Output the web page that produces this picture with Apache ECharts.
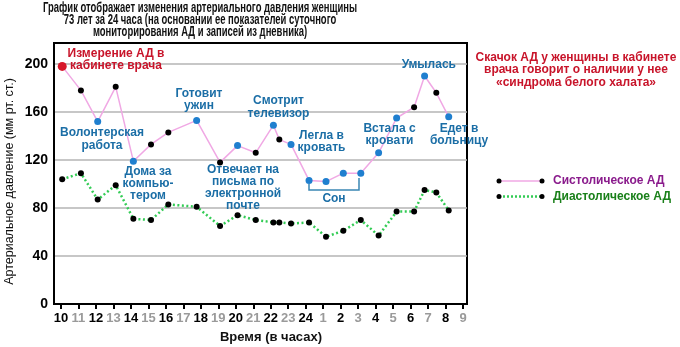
<!DOCTYPE html>
<html>
<head>
<meta charset="utf-8">
<script src="https://cdn.jsdelivr.net/npm/echarts@6/dist/echarts.min.js"></script>
<style>html,body{margin:0;padding:0;background:#fff;}#c{width:680px;height:347px;}</style>
</head>
<body>
<div id="c"></div>
<script>
// measurement times (hours from 10:00, continuing past midnight as 25, 26 ...)
var hours = [10.07, 11.14, 12.1, 13.13, 14.14, 15.15, 16.14, 17.76, 19.1, 20.1, 21.14, 22.15, 22.49, 23.16, 24.19, 25.16, 26.15, 27.15, 28.17, 29.2, 30.2, 30.8, 31.47, 32.18];
var systolic = [198, 178, 152, 181, 119, 133, 143, 153, 118, 132, 126, 149, 137, 133, 103, 102, 109, 109, 126, 155, 164, 190, 176, 156];
var diastolic = [104, 109, 87, 99, 71, 70, 83, 81, 65, 74, 70, 68, 68, 67, 68, 56, 61, 70, 57, 77, 77, 95, 93, 78];
// kind of each systolic point: 'office' = doctor's office, 'event' = diary entry, 'plain' = monitor only
var pointKind = ['office','plain','event','plain','event','plain','plain','event','plain','event','plain','event','plain','event','event','event','event','event','event','event','plain','event','plain','event'];
var tickHours = [10,11,12,13,14,15,16,17,18,19,20,21,22,23,24,25,26,27,28,29,30,31,32,33];
var yTicks = [0, 40, 80, 120, 160, 200];

var kindColor = {office:'#d7182a', event:'#1f7fcf', plain:'#000'};
var kindSize = {office:9, event:7, plain:6};

var chart = echarts.init(document.getElementById('c'), null, {renderer:'canvas'});

var FONT = '"Liberation Sans", Arial, sans-serif';
var BLUE_TXT = '#1b6ea6';
var RED_TXT = '#c8142a';

function measure(text, font) {
  var c = document.createElement('canvas').getContext('2d');
  c.font = font;
  var w = 0;
  text.split('\n').forEach(function(l){ w = Math.max(w, c.measureText(l).width); });
  return w;
}

function txt(text, x, y, color, opts) {
  opts = opts || {};
  var font = (opts.weight || 'bold') + ' ' + (opts.size || 12) + 'px ' + (opts.family || FONT);
  var sx = 1;
  if (opts.fitWidth) sx = opts.fitWidth / measure(text, font);
  return {
    type:'text', z:100, x:x, y:y, rotation: opts.rotation || 0, scaleX: sx, scaleY: 1,
    style:{
      text:text, fill:color, font:font,
      textAlign: opts.align || 'center', textVerticalAlign:'middle',
      lineHeight: opts.lh || 12.4
    }
  };
}

var graphics = [
  txt('График отображает изменения артериального давления женщины\n73 лет за 24 часа (на основании ее показателей суточного\nмониторирования АД и записей из дневника)', 200, 20, '#111', {size:14, lh:12.2, fitWidth:314}),
  txt('Измерение АД в\nкабинете врача', 116, 59.7, RED_TXT, {lh:11.8}),
  txt('Волонтерская\nработа', 102, 139, BLUE_TXT, {lh:12.6}),
  txt('Дома за\nкомпью-\nтером', 148, 183.7, BLUE_TXT, {lh:12}),
  txt('Готовит\nужин', 199, 99.7, BLUE_TXT, {lh:12.7}),
  txt('Отвечает на\nписьма по\nэлектронной\nпочте', 243, 187.5, BLUE_TXT, {lh:12}),
  txt('Смотрит\nтелевизор', 278.5, 107.2, BLUE_TXT, {lh:12.3}),
  txt('Легла в\nкровать', 321.5, 141.7, BLUE_TXT, {lh:12}),
  txt('Встала с\nкровати', 389.5, 134.2, BLUE_TXT, {lh:12}),
  txt('Умылась', 428.8, 64.3, BLUE_TXT),
  txt('Едет в\nбольницу', 459, 135, BLUE_TXT, {lh:12}),
  txt('Сон', 334, 199, BLUE_TXT),
  {type:'polyline', z:100, shape:{points:[[309,184],[309,190],[359,190],[359,178]]}, style:{stroke:'#3a86b4', lineWidth:1.5, fill:null}},
  txt('Скачок АД у женщины в кабинете\nврача говорит о наличии у нее\n«синдрома белого халата»', 576, 70, RED_TXT, {lh:12.7}),
  // legend
  {type:'line', z:100, shape:{x1:499, y1:181, x2:542, y2:181}, style:{stroke:'#f0a8e4', lineWidth:1.5}},
  {type:'circle', z:101, shape:{cx:499, cy:181, r:2.5}, style:{fill:'#000'}},
  {type:'circle', z:101, shape:{cx:542, cy:181, r:2.5}, style:{fill:'#000'}},
  txt('Систолическое АД', 553, 181, '#8a1b8c', {align:'left'}),
  {type:'line', z:100, shape:{x1:499, y1:196.5, x2:542, y2:196.5}, style:{stroke:'#33cc55', lineWidth:2.5, lineDash:[2,2]}},
  {type:'circle', z:101, shape:{cx:499, cy:196.5, r:2.5}, style:{fill:'#000'}},
  {type:'circle', z:101, shape:{cx:542, cy:196.5, r:2.5}, style:{fill:'#000'}},
  txt('Диастолическое АД', 553, 196.5, '#1a801a', {align:'left'}),
  // axis names
  txt('Время (в часах)', 271, 337, '#111', {size:13}),
  txt('Артериальное давление (мм рт. ст.)', 10, 181.5, '#111', {size:12.5, weight:'normal', rotation:Math.PI/2})
];

var option = {
  animation:false,
  backgroundColor:'#fff',
  grid:{left:54, right:213, top:43, bottom:43, show:true, borderColor:'#000', borderWidth:2, backgroundColor:'transparent'},
  xAxis:{
    type:'value', min:9.6, max:33.226,
    axisLine:{show:true, lineStyle:{color:'#000', width:2}},
    axisTick:{show:true, customValues:tickHours, length:5, lineStyle:{color:'#000', width:2}},
    axisLabel:{
      show:true, customValues:tickHours, margin:8,
      formatter:function(v){ var h = ((v - 1) % 24) + 1; return (h % 2 === 0 ? '{b|' : '{g|') + h + '}'; },
      rich:{
        b:{color:'#000', fontWeight:'bold', fontSize:13, fontFamily:FONT},
        g:{color:'#9a9a9a', fontWeight:'bold', fontSize:13, fontFamily:FONT}
      }
    },
    splitLine:{show:false}
  },
  yAxis:{
    type:'value', min:0, max:217.5, interval:40,
    axisLine:{show:true, lineStyle:{color:'#000', width:2}},
    axisTick:{show:false},
    axisLabel:{customValues:yTicks, margin:6, color:'#000', fontWeight:'bold', fontSize:14, fontFamily:FONT},
    splitLine:{show:true, showMinLine:false, showMaxLine:false, lineStyle:{color:'#b4b4b4', width:1.5}}
  },
  graphic:graphics,
  series:[
    {
      name:'Диастолическое АД', type:'line', z:3,
      data:hours.map(function(h,i){ return [h, diastolic[i]]; }),
      symbol:'circle', symbolSize:6,
      itemStyle:{color:'#000'},
      lineStyle:{color:'#33cc55', width:2.5, type:[2,2.5]}
    },
    {
      name:'Систолическое АД', type:'line', z:4,
      data:hours.map(function(h,i){
        var k = pointKind[i];
        return {value:[h, systolic[i]], symbolSize:kindSize[k], itemStyle:{color:kindColor[k]}};
      }),
      symbol:'circle',
      lineStyle:{color:'#f0a8e4', width:1.5}
    }
  ]
};
chart.setOption(option);
</script>
</body>
</html>
